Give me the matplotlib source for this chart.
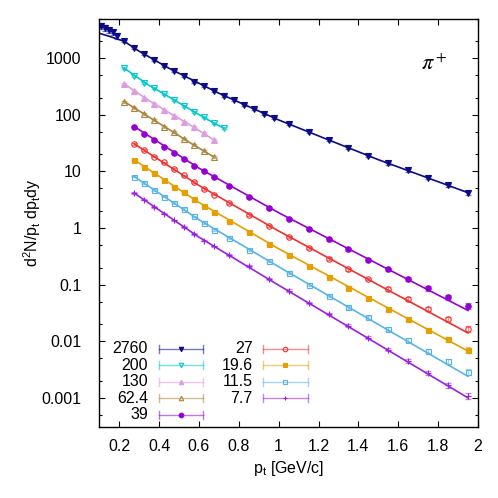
"""
pi+ pt spectra for several collision energies, with fit curves (log scale).
"""

import matplotlib
matplotlib.use('Agg')
import matplotlib.pyplot as plt
from matplotlib.colors import to_rgba
from matplotlib.ticker import FixedLocator, LogLocator, NullFormatter
import numpy as np

plt.rcParams['font.family'] = ['Liberation Sans', 'DejaVu Sans']
plt.rcParams['font.size'] = 11.5
plt.rcParams['mathtext.fontset'] = 'stix'


# ── data ──────────────────────────────────────────────────────────────────────

pt_2760 = [0.11, 0.13, 0.15, 0.17, 0.19, 0.225, 0.275, 0.325, 0.375, 0.425, 0.475,
           0.525, 0.575, 0.625, 0.675, 0.725, 0.775, 0.825, 0.875, 0.925, 0.975,
           1.05, 1.15, 1.25, 1.35, 1.45, 1.55, 1.65, 1.75, 1.85, 1.95]
y_2760 = [3700, 3370, 3100, 2860, 2500, 2010, 1500, 1170, 930, 738, 594,
          479, 385, 321, 264, 215, 181, 150, 126, 105, 89,
          69, 49.3, 36, 26.4, 18.8, 13.8, 10.4, 7.7, 5.7, 4.2]
err_2760 = [0.13, 0.12, 0.12, 0.12, 0.12, 0.05, 0.04, 0.04, 0.04, 0.04, 0.04,
            0.04, 0.04, 0.04, 0.04, 0.04, 0.04, 0.04, 0.04, 0.04, 0.04,
            0.05, 0.05, 0.05, 0.05, 0.05, 0.05, 0.06, 0.06, 0.06, 0.07]

pt_mid = [0.225, 0.275, 0.325, 0.375, 0.425, 0.475, 0.525, 0.575, 0.625, 0.675, 0.725]
y_200 = [664, 485, 370, 294, 234, 183, 145, 114, 91, 71, 58]
y_130 = [351, 264, 201, 158, 122, 97, 76, 60, 47, 36]
y_624 = [171, 132, 103, 80, 62, 49, 37, 29, 23, 18]
err_mid = [0.04, 0.04, 0.04, 0.04, 0.04, 0.04, 0.04, 0.04, 0.04, 0.04, 0.04]

pt_low = [0.275, 0.325, 0.375, 0.425, 0.475, 0.525, 0.575, 0.625, 0.675, 0.75, 0.85,
          0.95, 1.05, 1.15, 1.25, 1.35, 1.45, 1.55, 1.65, 1.75, 1.85, 1.95]
y_39 = [62, 46, 36, 27.5, 21, 16.5, 12.7, 10.3, 7.9, 5.6, 3.6,
        2.25, 1.46, 0.96, 0.63, 0.42, 0.276, 0.186, 0.126, 0.086, 0.060, 0.042]
y_27 = [30.7, 24, 18.3, 14.4, 11, 8.5, 6.5, 4.9, 3.9, 2.76, 1.72,
        1.07, 0.69, 0.44, 0.288, 0.189, 0.126, 0.084, 0.056, 0.037, 0.0248, 0.0166]
y_196 = [16, 12.2, 9.3, 7.1, 5.4, 4.25, 3.25, 2.47, 1.91, 1.35, 0.84,
         0.53, 0.331, 0.214, 0.137, 0.0875, 0.0573, 0.0372, 0.0248, 0.0159, 0.0108, 0.0071]
y_115 = [8.1, 6.2, 4.7, 3.6, 2.76, 2.16, 1.6, 1.22, 0.93, 0.667, 0.414,
         0.258, 0.161, 0.1, 0.0632, 0.0398, 0.0265, 0.0166, 0.0104, 0.0067, 0.00444, 0.00292]
y_77 = [4.14, 3.16, 2.34, 1.79, 1.36, 1.04, 0.79, 0.60, 0.473, 0.338, 0.21,
        0.128, 0.0784, 0.0476, 0.0304, 0.0189, 0.0115, 0.00714, 0.00444, 0.00277, 0.00168, 0.00107]
err_low = [0.03, 0.03, 0.03, 0.03, 0.03, 0.03, 0.03, 0.03, 0.03, 0.04, 0.04,
           0.04, 0.05, 0.05, 0.05, 0.06, 0.06, 0.07, 0.08, 0.09, 0.10, 0.12]

# fit curves, sampled at a few pt nodes
fit_pt_2760 = [0.1, 0.15, 0.225, 0.3, 0.45, 0.7, 1.0, 1.25, 1.5, 1.95]
fit_2760 = [2750, 2430, 1980, 1325, 662, 240, 81, 36, 16.1, 4.2]
fit_pt_mid = [0.225, 0.35, 0.45, 0.55, 0.675, 0.725]
fit_200 = [664, 330, 207, 128, 71, 58]
fit_130 = [351, 178, 109, 68, 36]
fit_624 = [171, 91, 55, 33, 18]
fit_pt_low = [0.275, 0.6, 1.0, 1.5, 1.95]
fit_39 = [62, 11.4, 1.86, 0.229, 0.035]
fit_27 = [30.7, 5.65, 0.885, 0.099, 0.014]
fit_196 = [16, 2.83, 0.43, 0.0478, 0.0067]
fit_115 = [8.1, 1.40, 0.207, 0.0198, 0.0024]
fit_77 = [4.14, 0.69, 0.0976, 0.0088, 0.001]


# ── styles ────────────────────────────────────────────────────────────────────

series = [
    # label, pt, y, err, fit_pt, fit, color, marker, filled, ms
    ('2760', pt_2760, y_2760, err_2760, fit_pt_2760, fit_2760, '#0a0a8a', 'v', True, 3.8),
    ('200', pt_mid, y_200, err_mid, fit_pt_mid, fit_200, '#00c8cc', 'v', False, 3.8),
    ('130', pt_mid[:10], y_130, err_mid[:10], fit_pt_mid[:5], fit_130, '#dd9ee0', '^', True, 3.8),
    ('62.4', pt_mid[:10], y_624, err_mid[:10], fit_pt_mid[:5], fit_624, '#a8843c', '^', False, 3.8),
    ('39', pt_low, y_39, err_low, fit_pt_low, fit_39, '#9400d3', 'o', True, 3.9),
    ('27', pt_low, y_27, err_low, fit_pt_low, fit_27, '#f03030', 'o', False, 3.9),
    ('19.6', pt_low, y_196, err_low, fit_pt_low, fit_196, '#e69f00', 's', True, 3.6),
    ('11.5', pt_low, y_115, err_low, fit_pt_low, fit_115, '#56b4e9', 's', False, 3.6),
    ('7.7', pt_low, y_77, err_low, fit_pt_low, fit_77, '#9a20e0', '+', False, 4.0),
]

fig = plt.figure(figsize=(4.98, 4.98), dpi=100)
ax = fig.add_axes([0.1994, 0.1416, 0.7604, 0.8211])
ax.set_yscale('log')
ax.set_xlim(0.1, 2.0)
ax.set_ylim(3e-4, 5000)

for label, pt, y, err, fpt, fy, col, mk, filled, ms in series:
    y = np.array(y)
    ax.errorbar(pt, y, yerr=y * np.array(err), fmt='none',
                ecolor=to_rgba(col, 0.55), elinewidth=0.9, capsize=2.0, capthick=0.9)
    ax.plot(pt, y, linestyle='none', marker=mk, ms=ms, color=col,
            mfc=col if filled else 'none', mec=col, mew=0.8)
    ax.plot(fpt, fy, color=col, lw=1.2)

# ── legend (gnuplot style: label, then bar with marker) ───────────────────────
col_text = [0.1286, 0.405]
col_bar = [(0.1584, 0.2746), (0.433, 0.5503)]
row_y = [0.192, 0.1528, 0.1121, 0.0714, 0.0306]
for i, (label, pt, y, err, fpt, fy, col, mk, filled, ms) in enumerate(series):
    c, r = divmod(i, 5)
    yy = row_y[r]
    x0, x1 = col_bar[c]
    light = to_rgba(col, 0.55)
    ax.text(col_text[c], yy, label, transform=ax.transAxes, ha='right', va='center')
    ax.plot([x0, x1], [yy, yy], transform=ax.transAxes, color=light, lw=1.0)
    ax.plot([x0, x0], [yy - 0.01, yy + 0.01], transform=ax.transAxes, color=light, lw=1.0)
    ax.plot([x1, x1], [yy - 0.01, yy + 0.01], transform=ax.transAxes, color=light, lw=1.0)
    ax.plot([(x0 + x1) / 2], [yy], transform=ax.transAxes, linestyle='none', marker=mk,
            ms=ms - 0.6, color=col, mfc=col if filled else 'none', mec=col, mew=0.8)

ax.text(0.8487, 0.8743, r'$\pi^+$', transform=ax.transAxes, fontsize=16,
        ha='left', va='baseline')

# ── axes ──────────────────────────────────────────────────────────────────────
xt = [0.2, 0.4, 0.6, 0.8, 1.0, 1.2, 1.4, 1.6, 1.8, 2.0]
ax.xaxis.set_major_locator(FixedLocator(xt))
ax.set_xticklabels(['0.2', '0.4', '0.6', '0.8', '1', '1.2', '1.4', '1.6', '1.8', '2'])
yt = [1e-3, 1e-2, 1e-1, 1, 10, 100, 1000]
ax.yaxis.set_major_locator(FixedLocator(yt))
ax.set_yticklabels(['0.001', '0.01', '0.1', '1', '10', '100', '1000'])
ax.yaxis.set_minor_locator(LogLocator(base=10, subs=(2, 5)))
ax.yaxis.set_minor_formatter(NullFormatter())

ax.tick_params(which='both', direction='in', top=True, right=True, width=0.8)
ax.tick_params(which='major', length=4.3)
ax.tick_params(which='minor', length=2.2)
ax.tick_params(axis='y', pad=13)
ax.tick_params(axis='x', pad=8)
for s in ax.spines.values():
    s.set_linewidth(1.0)

ax.set_xlabel(r'$\mathregular{p_t}$ [GeV/c]', labelpad=4)
ax.set_ylabel(r'$\mathregular{d^2N/p_t\ dp_t dy}$', labelpad=-1)

fig.savefig('out.png', dpi=100)
